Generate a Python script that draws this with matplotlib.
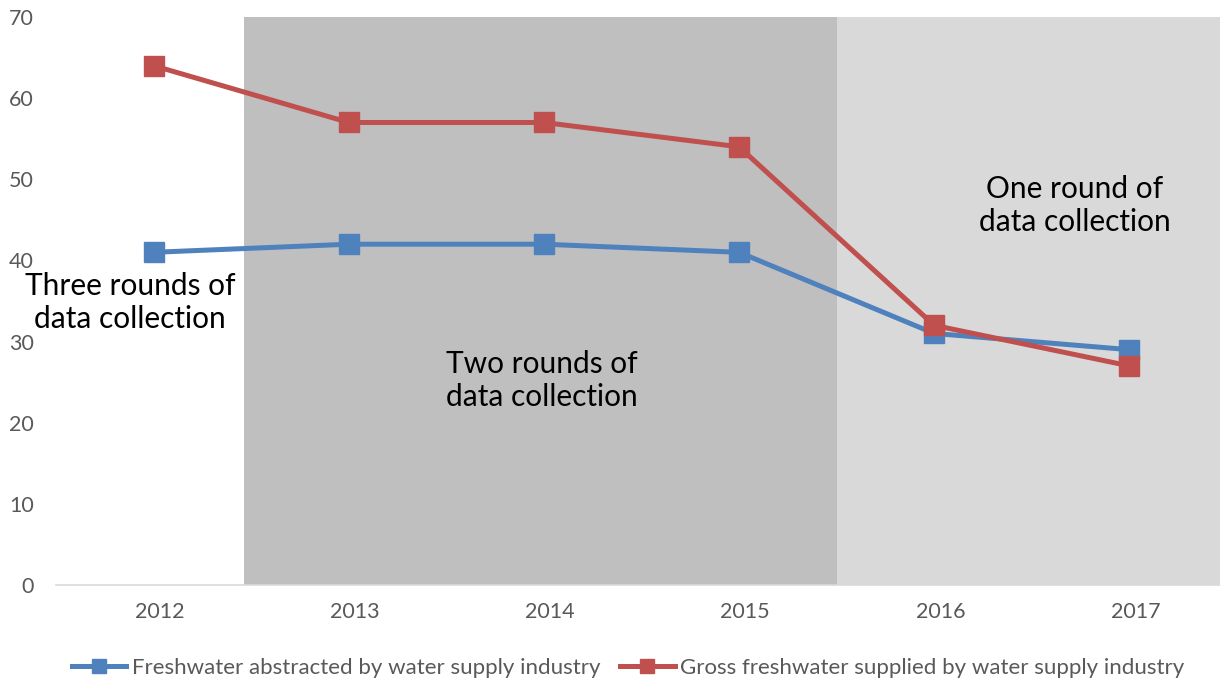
import matplotlib
matplotlib.use("Agg")
import matplotlib.pyplot as plt
import matplotlib.transforms as mtransforms

years = ["2012", "2013", "2014", "2015", "2016", "2017"]
abstracted = [41, 42, 42, 41, 31, 29]
supplied = [64, 57, 57, 54, 32, 27]
label_abstracted = "Freshwater abstracted by water supply industry"
label_supplied = "Gross freshwater supplied by water supply industry"

plt.rcParams['font.family'] = ['Lato', 'DejaVu Sans']

fig = plt.figure(figsize=(12.2, 6.83), dpi=100)
ax = fig.add_axes([56 / 1220, 98 / 683, 1171 / 1220, 568 / 683])

x = list(range(len(years)))

# shaded periods
ax.axvspan(0.465, 3.5, color='#BFBFBF', zorder=0, lw=0)
ax.axvspan(3.5, 5.6, color='#D9D9D9', zorder=0, lw=0)

ax.plot(x, abstracted, color='#4F81BD', lw=3.6, marker='s', ms=14,
        label=label_abstracted, zorder=3)
ax.plot(x, supplied, color='#C0504D', lw=3.6, marker='s', ms=14,
        label=label_supplied, zorder=4)

ax.set_xlim(-0.5, 5.5)
ax.set_ylim(0, 70)
ax.set_yticks(range(0, 71, 10))
ax.set_xticks(x)
ax.set_xticklabels(years)

for s in ['top', 'right', 'left']:
    ax.spines[s].set_visible(False)
ax.spines['bottom'].set_color('#D9D9D9')
ax.spines['bottom'].set_linewidth(1.2)
ax.tick_params(axis='both', length=0, labelsize=15.5, labelcolor='#595959')
ax.tick_params(axis='x', pad=12)
ax.tick_params(axis='y', pad=16)

# x labels sit a little right of the markers
offset = mtransforms.ScaledTranslation(6 / 100, 0, fig.dpi_scale_trans)
for lbl in ax.get_xticklabels():
    lbl.set_transform(lbl.get_transform() + offset)

txt = dict(fontsize=21.5, color='black', ha='center', va='center', linespacing=1.22)
ax.text(-0.12, 34.8, "Three rounds of\ndata collection", **txt)
ax.text(1.99, 25.2, "Two rounds of\ndata collection", **txt)
ax.text(4.72, 46.8, "One round of\ndata collection", **txt)

fig.legend(loc='center', bbox_to_anchor=(628 / 1220, 15 / 683), ncol=2,
           frameon=False, fontsize=16, labelcolor='#595959',
           handlelength=2.45, handletextpad=0.25, columnspacing=0.9,
           numpoints=1, markerscale=0.75)

fig.savefig("out.png", dpi=100)
